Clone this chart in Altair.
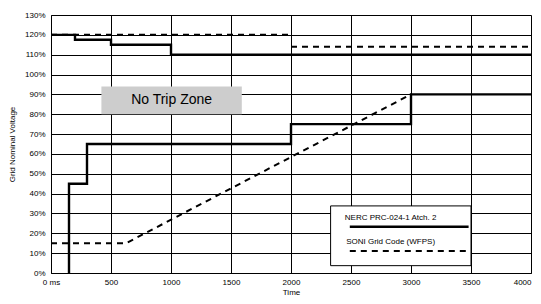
import altair as alt
import pandas as pd

# ---- data ----
nerc_lv_x = [150, 150, 300, 2000, 3000, 4000]
nerc_lv_y = [0, 45, 65, 75, 90, 90]
nerc_hv_x = [0, 200, 500, 1000, 4000]
nerc_hv_y = [120, 117.5, 115, 110, 110]

soni_lv_x = [0, 625, 3000]
soni_lv_y = [15, 15, 90]
soni_hv1_x = [0, 2000]
soni_hv1_y = [120, 120]
soni_hv2_x = [2000, 4000]
soni_hv2_y = [114, 114]

x_ticks = [0, 500, 1000, 1500, 2000, 2500, 3000, 3500, 4000]
y_ticks = [0, 10, 20, 30, 40, 50, 60, 70, 80, 90, 100, 110, 120, 130]

zone_label = "No Trip Zone"
zone_x = [420, 1590]
zone_y = [80, 94]

legend_box_x = [2330, 3500]
legend_box_y = [3.7, 33.8]
legend_labels = ["NERC PRC-024-1 Atch. 2", "SONI Grid Code (WFPS)"]

FONT = "Liberation Sans"

def seg(xs, ys, name):
    return pd.DataFrame({"t": xs, "v": ys, "seg": name, "i": range(len(xs))})

xs = alt.Scale(domain=[0, 4000], nice=False, zero=False)
ys = alt.Scale(domain=[0, 130], nice=False)

XAX = alt.Axis(
    values=x_ticks, title="Time", grid=True, gridColor="black", gridWidth=1, gridOpacity=1,
    labelExpr="datum.value == 0 ? '0 ms' : datum.value", labelOverlap=False,
    labelAlign={"condition": {"test": "datum.value == 4000", "value": "right"}, "value": "center"},
    labelFont=FONT, labelFontSize=8, labelColor="black", tickSize=0, labelPadding=5,
    titleFont=FONT, titleFontSize=8, titleFontWeight="normal", titleColor="black", titlePadding=2,
    domainColor="black", domainWidth=1, labelFlush=False)
YAX = alt.Axis(
    values=y_ticks, title="Grid Nominal Voltage", grid=True, gridColor="black", gridWidth=1, gridOpacity=1,
    labelExpr="datum.value + '%'", labelOverlap=False,
    labelFont=FONT, labelFontSize=8, labelColor="black", tickSize=0, labelPadding=6,
    titleFont=FONT, titleFontSize=8, titleFontWeight="normal", titleColor="black", titlePadding=8,
    domainColor="black", domainWidth=1)

def X(f):
    return alt.X(f, type="quantitative", scale=xs, axis=XAX)

def Y(f):
    return alt.Y(f, type="quantitative", scale=ys, axis=YAX)

nerc_df = pd.concat([seg(nerc_lv_x, nerc_lv_y, "lv"), seg(nerc_hv_x, nerc_hv_y, "hv")])
soni_df = pd.concat([seg(soni_lv_x, soni_lv_y, "lv"), seg(soni_hv1_x, soni_hv1_y, "hv1"),
                     seg(soni_hv2_x, soni_hv2_y, "hv2")])

nerc = alt.Chart(nerc_df).mark_line(interpolate="step-after", color="black", strokeWidth=2.4).encode(
    x=X("t"), y=Y("v"), detail="seg:N", order="i:Q")
soni = alt.Chart(soni_df).mark_line(color="black", strokeWidth=2, strokeDash=[6, 5]).encode(
    x=X("t"), y=Y("v"), detail="seg:N", order="i:Q")

zone_df = pd.DataFrame({"t": [zone_x[0]], "t2": [zone_x[1]], "v": [zone_y[0]], "v2": [zone_y[1]],
                        "label": [zone_label], "tm": [(zone_x[0] + zone_x[1]) / 2],
                        "vm": [(zone_y[0] + zone_y[1]) / 2]})
zone = alt.Chart(zone_df).mark_rect(color="#cdcdcd").encode(x=X("t"), x2="t2", y=Y("v"), y2="v2")
zone_text = alt.Chart(zone_df).mark_text(font=FONT, fontSize=14, color="black", baseline="middle").encode(
    x=X("tm"), y=Y("vm"), text="label:N")

box_df = pd.DataFrame({"t": [legend_box_x[0]], "t2": [legend_box_x[1]],
                       "v": [legend_box_y[0]], "v2": [legend_box_y[1]]})
box = alt.Chart(box_df).mark_rect(fill="white", stroke="black", strokeWidth=1).encode(
    x=X("t"), x2="t2", y=Y("v"), y2="v2")
leg_text_df = pd.DataFrame({"t": [2830, 2830], "v": [27.9, 15.8], "label": legend_labels})
leg_text = alt.Chart(leg_text_df).mark_text(font=FONT, fontSize=8, color="black", baseline="middle").encode(
    x=X("t"), y=Y("v"), text="label:N")
leg_solid = alt.Chart(pd.DataFrame({"t": [2490], "t2": [3480], "v": [23.3]})).mark_rule(
    color="black", strokeWidth=2.4).encode(x=X("t"), x2="t2", y=Y("v"))
leg_dash = alt.Chart(pd.DataFrame({"t": [2490], "t2": [3480], "v": [11.1]})).mark_rule(
    color="black", strokeWidth=2, strokeDash=[6, 5]).encode(x=X("t"), x2="t2", y=Y("v"))

chart = alt.layer(nerc, soni, zone, zone_text, box, leg_text, leg_solid, leg_dash).properties(
    width=480, height=258,
    autosize=alt.AutoSizeParams(type="none"),
    padding={"left": 43, "top": 7, "right": 2, "bottom": 25},
).configure_view(stroke="black", strokeWidth=1).configure(background="white")

chart.save("out.html", embed_options={"renderer": "svg", "actions": False})
